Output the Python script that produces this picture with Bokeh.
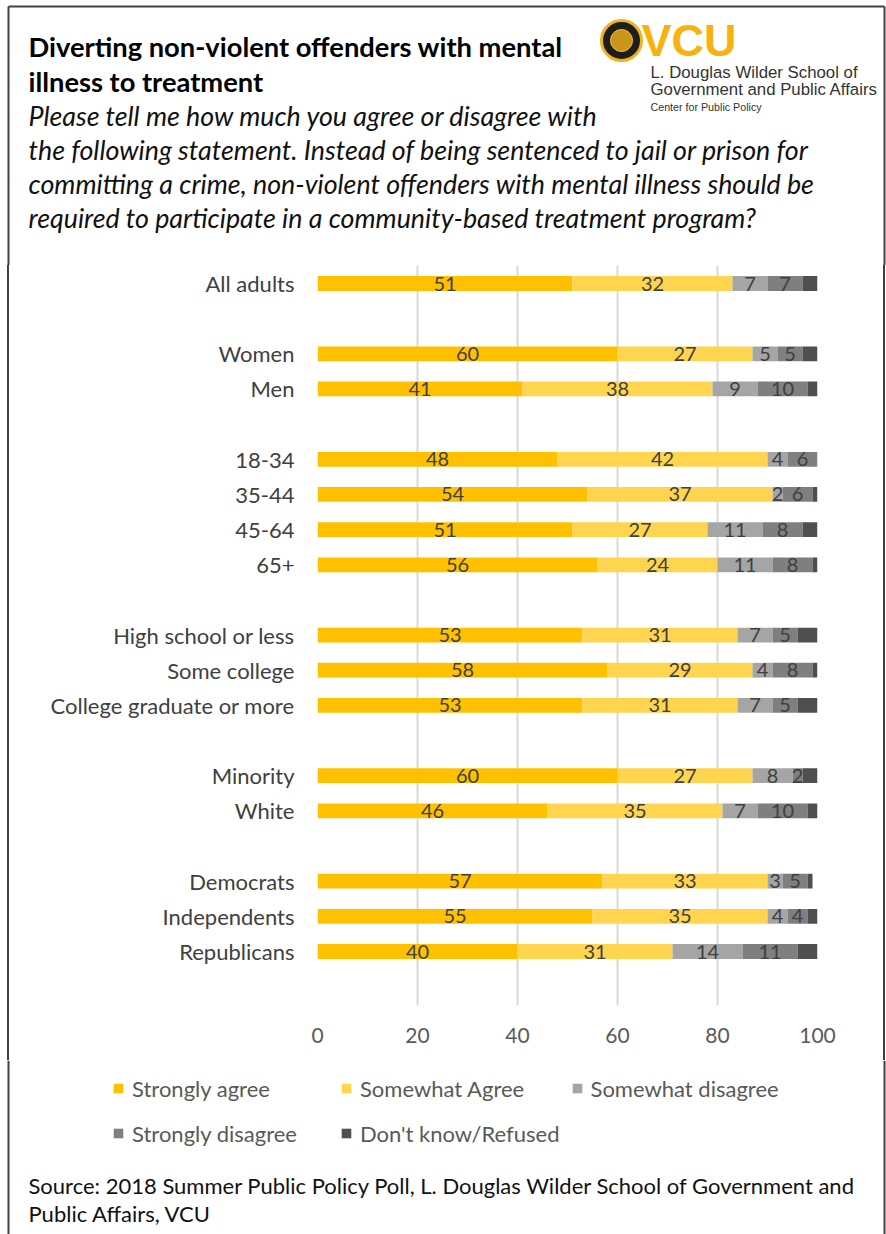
import numpy as np
from bokeh.plotting import figure
from bokeh.layouts import column
from bokeh.models import (ColumnDataSource, Range1d, Legend, LegendItem, FixedTicker)
from bokeh.core.properties import value
from bokeh.embed import file_html
from bokeh.resources import INLINE

# ---------------- data ----------------
groups = [
    ["All adults"],
    ["Women", "Men"],
    ["18-34", "35-44", "45-64", "65+"],
    ["High school or less", "Some college", "College graduate or more"],
    ["Minority", "White"],
    ["Democrats", "Independents", "Republicans"],
]
strongly_agree    = [51, 60, 41, 48, 54, 51, 56, 53, 58, 53, 60, 46, 57, 55, 40]
somewhat_agree    = [32, 27, 38, 42, 37, 27, 24, 31, 29, 31, 27, 35, 33, 35, 31]
somewhat_disagree = [7, 5, 9, 4, 2, 11, 11, 7, 4, 7, 8, 7, 3, 4, 14]
strongly_disagree = [7, 5, 10, 6, 6, 8, 8, 5, 8, 5, 2, 10, 5, 4, 11]
dont_know         = [3, 3, 2, 0, 1, 3, 1, 4, 1, 4, 3, 2, 1, 2, 4]
series_names = ["Strongly agree", "Somewhat Agree", "Somewhat disagree",
                "Strongly disagree", "Don't know/Refused"]
colors = ["#FFC000", "#FFD44F", "#A5A5A5", "#7F7F7F", "#4F4F4F"]
x_ticks = [0, 20, 40, 60, 80, 100]

title_lines = ["Diverting non-violent offenders with mental", "illness to treatment"]
subtitle_lines = ["Please tell me how much you agree or disagree with",
                  "the following statement. Instead of being sentenced to jail or prison for",
                  "committing a crime, non-violent offenders with mental illness should be",
                  "required to participate in a community-based treatment program?"]
source_lines = ["Source: 2018 Summer Public Policy Poll, L. Douglas Wilder School of Government and",
                "Public Affairs, VCU"]
logo_lines = ["L. Douglas Wilder School of", "Government and Public Affairs",
              "Center for Public Policy"]

# ---------------- layout constants ----------------
W, H = 886, 1234
HEAD_H = 265
MID_H = 795
FOOT_H = H - HEAD_H - MID_H
BORDER = "#404040"
FL, FR = 317, 817
FRAME_H = 740
ROW0, ROWN = 283, 951

def blank(width, height, x0, x1, y_bottom, y_top):
    f = figure(width=width, height=height, output_backend="svg", toolbar_location=None,
               x_range=Range1d(x0, x1), y_range=Range1d(y_bottom, y_top),
               x_axis_type=None, y_axis_type=None, min_border=0, frame_align=False)
    f.outline_line_color = None
    f.grid.visible = False
    f.background_fill_color = "white"
    f.border_fill_color = "white"
    return f

def txt(f, x, y, text, size, style="normal", color="#111111", font="Lato", align="left"):
    f.text(x=[x], y=[y], text=[text], text_font=value(font), text_font_size=f"{size}px",
           text_font_style=style, text_color=color, text_align=align,
           text_baseline="middle")

# ---------------- header ----------------
head = blank(W, HEAD_H, 0, W, HEAD_H, 0)
head.segment(x0=[8, 8, 884], y0=[6, 6, 6], x1=[884, 8, 884], y1=[6, HEAD_H, HEAD_H],
             line_color=BORDER, line_width=2)
txt(head, 28, 46, title_lines[0], 27.3, "bold", "#000000")
txt(head, 28, 81, title_lines[1], 27.3, "bold", "#000000")
for i, t in enumerate(subtitle_lines):
    txt(head, 28, 115 + i * 34.3, t, 26.8, "italic", "#111111")
head.scatter(x=[621], y=[40], size=40, marker="circle", fill_color="#1E1E1E",
             line_color="#F2B21B", line_width=3)
head.scatter(x=[621], y=[40], size=22, marker="circle", fill_color="#C9961A",
             line_color="#F5C040", line_width=1)
txt(head, 641, 40, "VCU", 45, "bold", "#F8B20E", "Liberation Sans")
txt(head, 650, 72, logo_lines[0], 16.8, "normal", "#333333", "Liberation Sans")
txt(head, 650, 89, logo_lines[1], 16.8, "normal", "#333333", "Liberation Sans")
txt(head, 650, 106, logo_lines[2], 10.7, "normal", "#333333", "Liberation Sans")

# ---------------- chart ----------------
categories, slots = [], []
s = 0
for g in groups:
    for c in g:
        categories.append(c)
        slots.append(s)
        s += 1
    s += 1
pitch = (ROWN - ROW0) / slots[-1]
y_top = (HEAD_H - ROW0) / pitch
y_bot = (HEAD_H + FRAME_H - ROW0) / pitch

keys = ["sa", "wa", "wd", "sd", "dk"]
source = ColumnDataSource(dict(slot=slots, cat=categories, sa=strongly_agree,
                               wa=somewhat_agree, wd=somewhat_disagree,
                               sd=strongly_disagree, dk=dont_know))

p = figure(width=W, height=MID_H, output_backend="svg", toolbar_location=None,
           x_range=Range1d(0, 100), y_range=Range1d(y_bot, y_top),
           min_border_left=FL, min_border_right=W - FR,
           min_border_top=0, min_border_bottom=MID_H - FRAME_H, frame_align=False)
p.outline_line_color = None
p.background_fill_color = "white"
p.border_fill_color = None
# the outer frame's side rules, painted behind the (transparent) plot border area
p.styles = {
    "background-color": "white",
    "background-image": ("linear-gradient(to right, transparent 7px, #404040 7px, "
                         "#404040 9px, transparent 9px, transparent 883px, "
                         "#404040 883px, #404040 885px, transparent 885px)"),
}

renderers = p.hbar_stack(keys, y="slot", height=0.42, color=colors, source=source,
                         line_width=0)

lx, ly, lt = [], [], []
vals = [strongly_agree, somewhat_agree, somewhat_disagree, strongly_disagree]
for i in range(len(categories)):
    left = 0
    for v in vals:
        if v[i] > 0:
            lx.append(left + v[i] / 2.0)
            ly.append(slots[i])
            lt.append(str(v[i]))
        left += v[i]
lsrc = ColumnDataSource(dict(x=lx, y=ly, t=lt))
p.text(x="x", y="y", text="t", source=lsrc, text_font=value("Lato"),
       text_font_size="20px", text_color="#404040", text_align="center",
       text_baseline="middle")

p.xaxis.ticker = FixedTicker(ticks=x_ticks)
p.xaxis.axis_line_color = None
p.xaxis.major_tick_line_color = None
p.xaxis.minor_tick_line_color = None
p.xaxis.major_label_text_font = "Lato"
p.xaxis.major_label_text_font_size = "21px"
p.xaxis.major_label_text_color = "#595959"
p.xaxis.major_label_standoff = 16

p.yaxis.ticker = FixedTicker(ticks=slots)
p.yaxis.major_label_overrides = {sl: c for sl, c in zip(slots, categories)}
p.yaxis.axis_line_color = None
p.yaxis.major_tick_line_color = None
p.yaxis.minor_tick_line_color = None
p.yaxis.major_label_text_font = "Lato"
p.yaxis.major_label_text_font_size = "22px"
p.yaxis.major_label_text_color = "#404040"
p.yaxis.major_label_standoff = 17

p.xgrid.ticker = FixedTicker(ticks=x_ticks)
p.xgrid.grid_line_color = "#D9D9D9"
p.xgrid.grid_line_width = 2
p.ygrid.grid_line_color = None

# ---------------- footer ----------------
foot_top = HEAD_H + MID_H
foot = blank(W, FOOT_H, 0, W, H, foot_top)
foot.segment(x0=[8, 884], y0=[foot_top, foot_top], x1=[8, 884], y1=[H, H],
             line_color=BORDER, line_width=2)
# legend swatches: renderers placed outside the visible area, used only by the legend
dummy = [foot.rect(x=[-1000], y=[-1000], width=1, height=1, fill_color=c, line_color=None)
         for c in colors]
items = [LegendItem(label=n, renderers=[r]) for n, r in zip(series_names, dummy)]
legend = Legend(items=items, location=(112, H - 1150), orientation="horizontal",
                ncols=3, glyph_width=12, glyph_height=12, label_standoff=8,
                label_text_font="Lato", label_text_font_size="22px",
                label_text_color="#595959", spacing=11, padding=0, margin=0,
                border_line_color=None, background_fill_alpha=0,
                label_height=34, label_width=197)
foot.add_layout(legend)
txt(foot, 28, 1185, source_lines[0], 22, "normal", "#111111")
txt(foot, 28, 1213, source_lines[1], 22, "normal", "#111111")

layout = column(head, p, foot, spacing=0)
open("out.html", "w").write(file_html(layout, INLINE))
